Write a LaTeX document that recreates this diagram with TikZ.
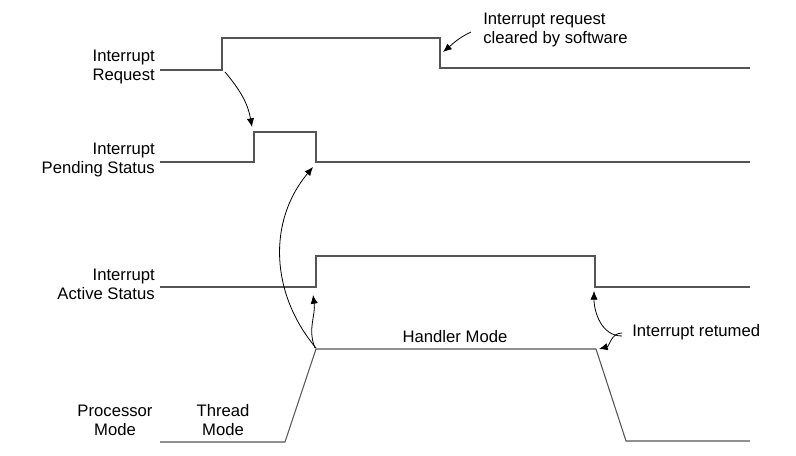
\documentclass[tikz,border=0pt]{standalone}
\usepackage{fontspec}
\setmainfont{Liberation Sans}
\usetikzlibrary{arrows.meta}
\definecolor{waveGray}{HTML}{555555}

\begin{document}
\begin{tikzpicture}[x=0.75pt, y=0.75pt,
  wave/.style={draw=waveGray, line width=0.9pt},
  lbl/.style={inner sep=0pt, align=right, anchor=east, font=\fontsize{12.5}{14.25}\selectfont},
  txt/.style={inner sep=0pt, align=center, font=\fontsize{12.5}{14.25}\selectfont},
  arr/.style={-{Latex[length=6.5pt,width=5.5pt]}, line width=0.6pt}]
  \useasboundingbox (0,0) rectangle (796,455);
  % (a) interrupt request
  \coordinate (r0) at (160,385); \coordinate (r1) at (222,385);
  \coordinate (r2) at (222,417); \coordinate (r3) at (440,417);
  \coordinate (r4) at (440,387); \coordinate (r5) at (750,387);
  \draw[wave] (r0)--(r1)--(r2)--(r3)--(r4)--(r5);
  \node[lbl] (reqL) at (155,388) {Interrupt\\Request};
  \node[txt, align=left, anchor=west] (clr) at (483,425) {Interrupt request\\cleared by software};
  % (b) pending status
  \coordinate (p0) at (160,293); \coordinate (p1) at (254,293);
  \coordinate (p2) at (254,323); \coordinate (p3) at (316,323);
  \coordinate (p4) at (316,293); \coordinate (p5) at (750,293);
  \draw[wave] (p0)--(p1)--(p2)--(p3)--(p4)--(p5);
  \node[lbl] (pendL) at (155,295) {Interrupt\\Pending Status};
  % (c) active status
  \coordinate (a0) at (160,168); \coordinate (a1) at (316,168);
  \coordinate (a2) at (316,199); \coordinate (a3) at (595,199);
  \coordinate (a4) at (595,168); \coordinate (a5) at (750,168);
  \draw[wave] (a0)--(a1)--(a2)--(a3)--(a4)--(a5);
  \node[lbl] (actL) at (155,171) {Interrupt\\Active Status};
  % (d) processor mode
  \coordinate (m0) at (160,13); \coordinate (m1) at (285,13);
  \coordinate (m2) at (316,106); \coordinate (m3) at (596,106);
  \coordinate (m4) at (626,14); \coordinate (m5) at (750,14);
  \draw[wave, line width=0.8pt] (m0)--(m1)--(m2)--(m3)--(m4)--(m5);
  \node[txt] (procL) at (115,35) {Processor\\Mode};
  \node[txt] (thrL) at (223,35) {Thread\\Mode};
  \node[txt] (hndL) at (455,118) {Handler Mode};
  \node[txt, anchor=west] (ret) at (632,123) {Interrupt retumed};
  % arrows
  \draw[arr] ([shift={(3,-2)}]r1) to[out=-50, in=100] ([shift={(-2,5)}]p2);
  \draw[arr] ([shift={(-12,-2)}]clr.west) to[out=205, in=40] ([shift={(3,-14)}]r3);
  \draw[arr] ([shift={(0,1)}]m2) to[out=130, in=-130] ([shift={(-3,-5)}]p4);
  \draw[arr] ([shift={(-1,1)}]m2) to[out=112, in=-82] ([shift={(-3,-8)}]a1);
  \draw[arr] ([shift={(-10,-4)}]ret.west) to[out=180, in=-90] ([shift={(-1,-4)}]a4);
  \draw[arr] ([shift={(-10,-1)}]ret.west) to[out=180, in=15] ([shift={(3,0)}]m3);
\end{tikzpicture}
\end{document}
